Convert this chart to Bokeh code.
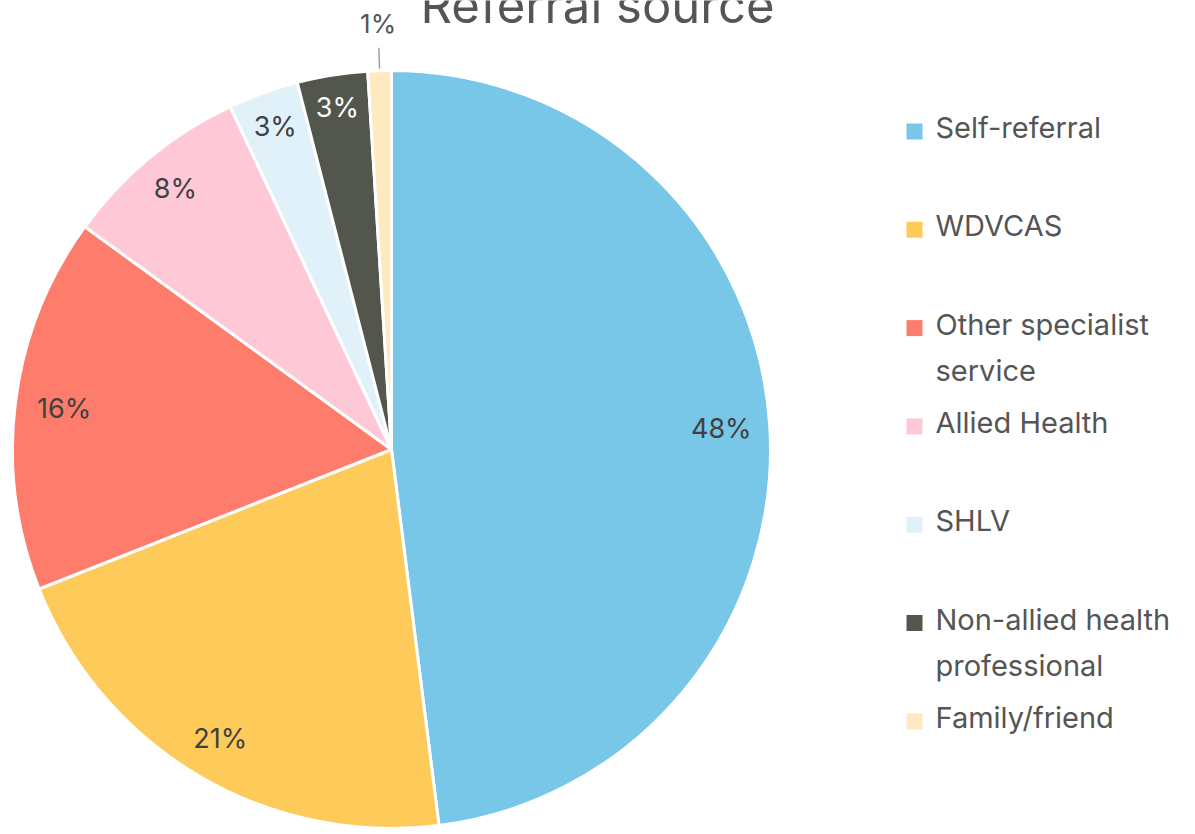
import math
from bokeh.plotting import figure
from bokeh.models import Range1d, ColumnDataSource
from bokeh.core.properties import value
from bokeh.embed import file_html
from bokeh.resources import INLINE

# ---- data ----
categories = ["Self-referral", "WDVCAS", "Other specialist\nservice", "Allied Health",
              "SHLV", "Non-allied health\nprofessional", "Family/friend"]
shares = [48, 21, 16, 8, 3, 3, 1]
pct_labels = ["48%", "21%", "16%", "8%", "3%", "3%", "1%"]
colors = ["#79C7E8", "#FECB5B", "#FE7C6B", "#FEC8D6", "#E1F1FA", "#53564C", "#FEE9C0"]
label_colors = ["#404040", "#404040", "#404040", "#404040", "#404040", "#FFFFFF", "#555555"]
title = "Referral source"

W, H = 1195, 834
FONT = "Inter"

def Y(py):
    return H - py

p = figure(width=W, height=H, output_backend="svg", toolbar_location=None,
           x_range=Range1d(0, W), y_range=Range1d(0, H), min_border=0)
p.axis.visible = False
p.grid.visible = False
p.outline_line_color = None
p.background_fill_color = "white"
p.border_fill_color = "white"

cx, cy, r = 391, Y(449), 379
total = float(sum(shares))
starts, ends, mids = [], [], []
c = 0.0
for v in shares:
    c0 = c / total
    c += v
    c1 = c / total
    starts.append(math.pi / 2 - 2 * math.pi * c0)
    ends.append(math.pi / 2 - 2 * math.pi * c1)
    mids.append(math.pi / 2 - 2 * math.pi * (c0 + c1) / 2)

src = ColumnDataSource(dict(start=starts, end=ends, color=colors))
p.wedge(x=cx, y=cy, radius=r, start_angle="start", end_angle="end", direction="clock",
        fill_color="color", line_color="white", line_width=3, source=src)

# inside labels: keep label box a fixed distance inside the rim
LBL_SIZE = 27
lx, ly, lt, lc = [], [], [], []
for i, m in enumerate(mids):
    if shares[i] < 2:
        continue
    w = len(pct_labels[i]) * 17 + 7
    h = 21
    d = 0.95 * r - (abs(math.cos(m)) * w / 2 + abs(math.sin(m)) * h / 2)
    lx.append(cx + d * math.cos(m))
    ly.append(cy + d * math.sin(m))
    lt.append(pct_labels[i])
    lc.append(label_colors[i])
p.text(x=lx, y=ly, text=lt, text_color=lc, text_font=value(FONT), text_font_size=f"{LBL_SIZE}px",
       text_align="center", text_baseline="middle")

# outside labels for small slices
for i, m in enumerate(mids):
    if shares[i] >= 2:
        continue
    x0, y0 = cx + (r + 2) * math.cos(m), cy + (r + 2) * math.sin(m)
    x1, y1 = cx + (r + 23) * math.cos(m), cy + (r + 23) * math.sin(m)
    p.line([x0, x1], [y0, y1], line_color="#A0A0A0", line_width=1.5)
    p.text(x=[cx + (r + 47) * math.cos(m)], y=[cy + (r + 47) * math.sin(m)], text=[pct_labels[i]],
           text_color=label_colors[i], text_font=value(FONT), text_font_size="26px",
           text_align="center", text_baseline="middle")

# title (partly above the top edge, as in the original)
p.text(x=[597], y=[Y(5)], text=[title], text_color="#555555", text_font=value(FONT),
       text_font_size="49px", text_align="center", text_baseline="middle")

# legend
leg_top = 137
leg_step = 98.3
line_gap = 46
sq_x, sq_y, sq_c = [], [], []
tx, ty, tt = [], [], []
for i, cat in enumerate(categories):
    base = leg_top + i * leg_step
    sq_x.append(914)
    sq_y.append(Y(base - 6))
    sq_c.append(colors[i])
    for j, line in enumerate(cat.split("\n")):
        tx.append(935)
        ty.append(Y(base + j * line_gap - 10))
        tt.append(line)
p.rect(x=sq_x, y=sq_y, width=16, height=16, fill_color=sq_c, line_color=None)
p.text(x=tx, y=ty, text=tt, text_color="#555555", text_font=value(FONT), text_font_size="29px",
       text_align="left", text_baseline="middle")

open("out.html", "w").write(file_html(p, INLINE))
